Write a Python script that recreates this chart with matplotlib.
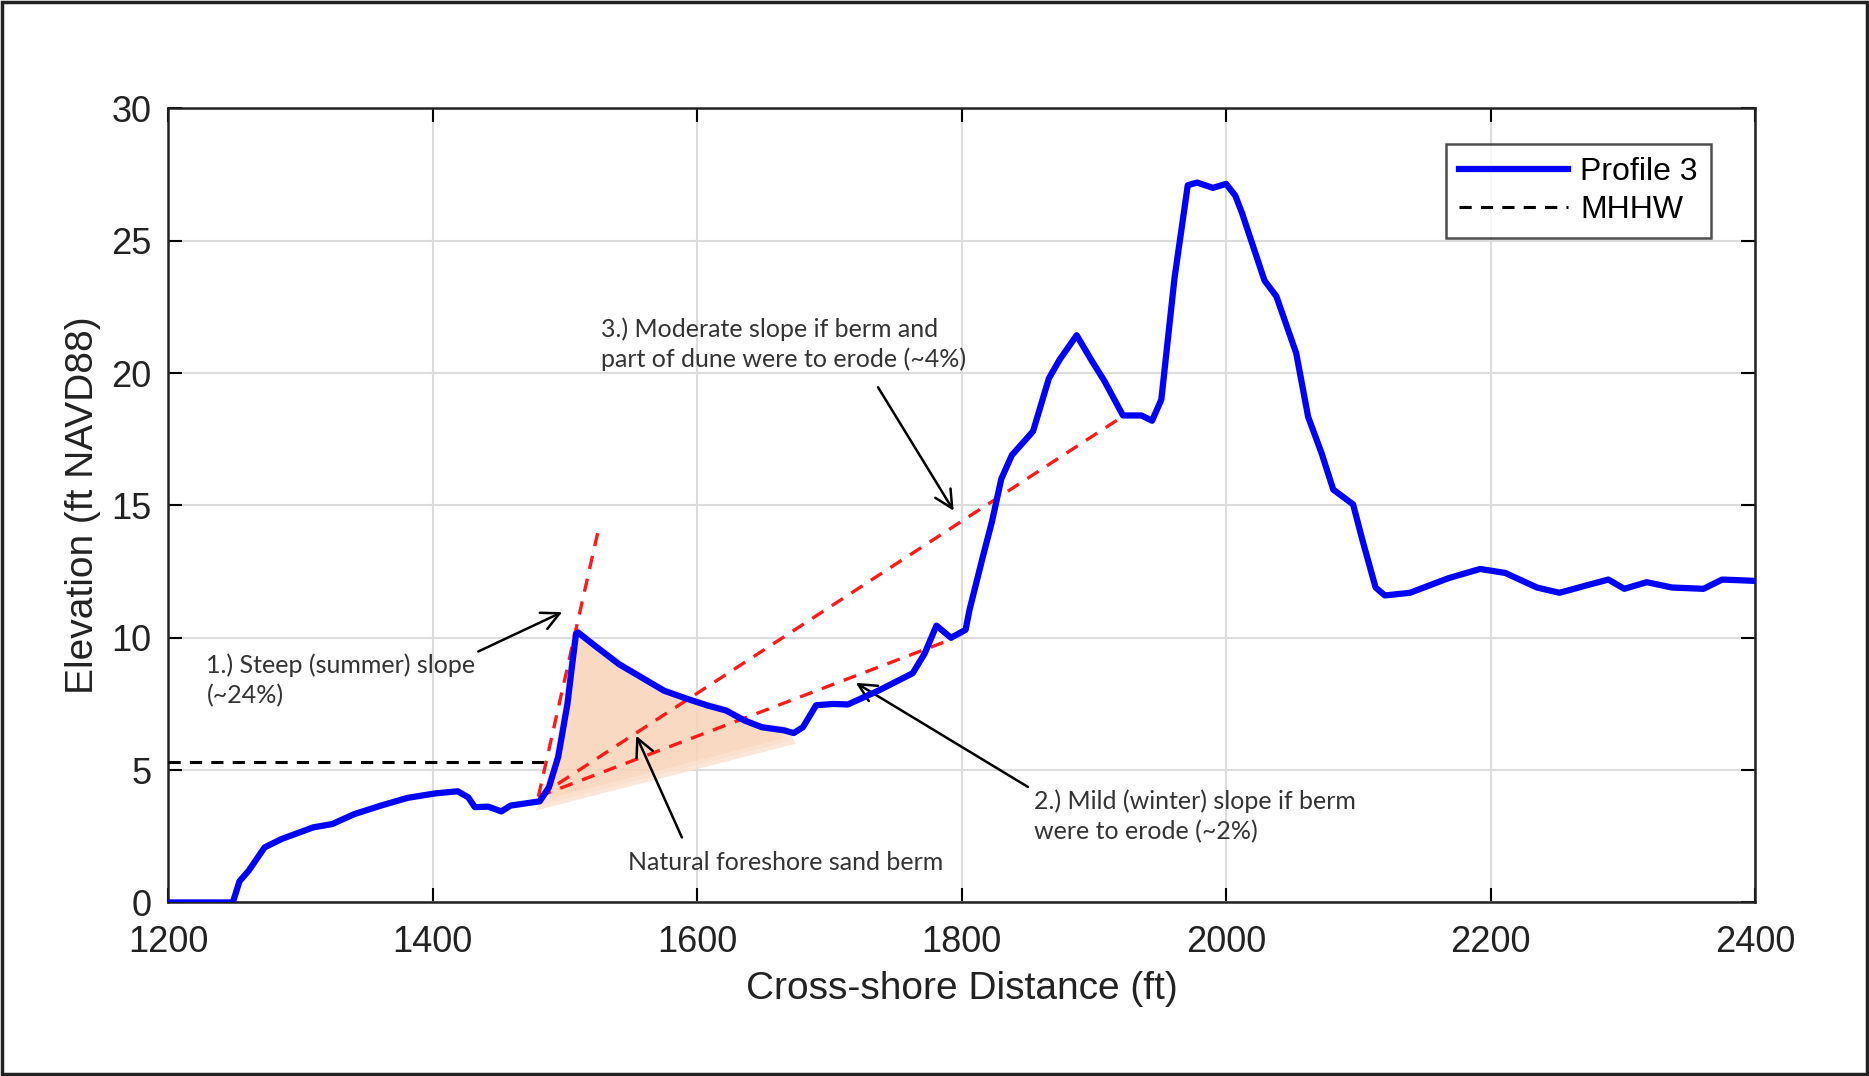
import matplotlib.pyplot as plt
from matplotlib.patches import Rectangle, Polygon

# Beach profile 3 (cross-shore distance in ft, elevation in ft NAVD88)
dist = [1200, 1249, 1254, 1261, 1273, 1286, 1310, 1324, 1341, 1361, 1381, 1402,
        1419, 1427, 1432, 1442, 1452, 1459, 1481, 1488, 1495, 1502, 1505, 1508.5,
        1510, 1524, 1541, 1558, 1575, 1592, 1608, 1622, 1636, 1649, 1666, 1673,
        1680, 1690, 1703, 1714, 1737, 1763, 1772, 1781, 1786, 1792, 1803, 1806,
        1816, 1823, 1830, 1838, 1854, 1866, 1874, 1887, 1898, 1908, 1922, 1936,
        1944, 1951, 1961, 1971, 1978, 1990, 2000, 2007, 2012, 2019, 2029, 2038,
        2053, 2062, 2072, 2081, 2096, 2103, 2113, 2120, 2139, 2168, 2192, 2211,
        2235, 2252, 2274, 2289, 2301, 2318, 2337, 2361, 2375, 2400]
elev = [0.0, 0.0, 0.8, 1.2, 2.08, 2.4, 2.84, 2.96, 3.34, 3.66, 3.95, 4.12,
        4.2, 3.97, 3.6, 3.62, 3.44, 3.66, 3.82, 4.35, 5.5, 7.5, 8.76, 10.15,
        10.2, 9.65, 9.0, 8.5, 8.0, 7.7, 7.44, 7.25, 6.87, 6.62, 6.5, 6.4,
        6.62, 7.45, 7.5, 7.48, 8.0, 8.66, 9.4, 10.46, 10.25, 10.0, 10.3, 11.06,
        13.05, 14.4, 16.0, 16.9, 17.8, 19.8, 20.5, 21.43, 20.5, 19.7, 18.4, 18.4,
        18.2, 19.0, 23.6, 27.1, 27.2, 27.0, 27.15, 26.7, 26.05, 25.0, 23.5, 22.9,
        20.75, 18.35, 17.0, 15.6, 15.04, 13.7, 11.9, 11.6, 11.7, 12.25, 12.6, 12.45,
        11.9, 11.7, 12.0, 12.2, 11.85, 12.1, 11.9, 11.85, 12.2, 12.15]

mhhw_x = [1200, 1485]
mhhw_y = [5.3, 5.3]

# slope lines from the toe of the berm
steep_x, steep_y = [1480, 1525], [4.0, 14.0]
mild_x, mild_y = [1480, 1787], [4.0, 9.84]
moderate_x, moderate_y = [1480, 1923], [4.0, 18.4]

# lower edge of the shaded berm area
berm_lower_x = [1670, 1483]
berm_lower_y = [6.1, 3.7]

fig = plt.figure(figsize=(18.69, 10.76), dpi=100)
ax = fig.add_axes([0.0899, 0.1613, 0.8492, 0.7379])

font_ax = ['Liberation Sans', 'DejaVu Sans']
font_note = ['Lato', 'DejaVu Sans']

# berm shading
berm_pts = [(x, y) for x, y in zip(dist, elev) if 1483 <= x <= 1670]
berm_pts += list(zip(berm_lower_x, berm_lower_y))
ax.add_patch(Polygon(berm_pts, closed=True, facecolor='#f9d3b8', edgecolor='#fbe2d0',
                     lw=6, alpha=0.85, zorder=1))

ax.plot(dist, elev, color='#0000ff', lw=4.5, label='Profile 3', zorder=4,
        solid_joinstyle='round')
ax.plot(mhhw_x, mhhw_y, color='black', lw=2.2, ls=(0, (4, 3)), label='MHHW', zorder=3)

for xs, ys in [(steep_x, steep_y), (mild_x, mild_y), (moderate_x, moderate_y)]:
    ax.plot(xs, ys, color='#ff1a1a', lw=2.4, ls=(0, (4, 3)), zorder=3)

ax.set_xlim(1200, 2400)
ax.set_ylim(0, 30)
ax.set_xticks(range(1200, 2401, 200))
ax.set_yticks(range(0, 31, 5))
ax.grid(True, color='#dcdcdc', lw=1.5)
ax.set_axisbelow(True)
ax.tick_params(direction='in', length=10, width=1.5, labelsize=26, top=True, right=True)
ax.tick_params(axis='x', pad=16)
ax.tick_params(axis='y', pad=12)
for lab in ax.get_xticklabels() + ax.get_yticklabels():
    lab.set_family(font_ax)
    lab.set_color('#222222')
for s in ax.spines.values():
    s.set_linewidth(1.8)
    s.set_color('#222222')

ax.set_xlabel('Cross-shore Distance (ft)', fontsize=28, family=font_ax, labelpad=8,
              color='#222222')
ax.set_ylabel('Elevation (ft NAVD88)', fontsize=28, family=font_ax, labelpad=7,
              color='#222222')

leg = ax.legend(loc='upper right', prop={'family': font_ax, 'size': 23},
                handlelength=3.4, handletextpad=0.4, borderpad=0.4, labelspacing=0.25,
                fancybox=False, edgecolor='#222222', bbox_to_anchor=(0.982, 0.975))
leg.get_frame().set_linewidth(1.8)

arrow = dict(arrowstyle='->', color='black', lw=1.8, mutation_scale=32,
             shrinkA=0, shrinkB=0)
note = dict(fontsize=18, family=font_note, color='#333333', va='center', ha='left',
            linespacing=1.35)
ax.annotate('1.) Steep (summer) slope\n(~24%)', xy=(1498, 10.97), xytext=(1229, 8.4),
            arrowprops=dict(arrow, relpos=(0.86, 0.68)), **note)
ax.annotate('Natural foreshore sand berm', xy=(1554, 6.3), xytext=(1548, 1.5),
            arrowprops=dict(arrow, relpos=(0.17, 1.6)), **note)
ax.annotate('2.) Mild (winter) slope if berm\nwere to erode (~2%)', xy=(1720, 8.3),
            xytext=(1855, 3.25), arrowprops=dict(arrow, relpos=(-0.02, 1.05)), **note)
ax.annotate('3.) Moderate slope if berm and\npart of dune were to erode (~4%)',
            xy=(1794, 14.8), xytext=(1527, 21.1),
            arrowprops=dict(arrow, relpos=(0.76, -0.3)), **note)

# outer frame around the figure
fig.patches.append(Rectangle((0.001, 0.002), 0.998, 0.996, transform=fig.transFigure,
                             fill=False, edgecolor='#222222', lw=2.5))

fig.savefig('out.png', dpi=100, facecolor='white')
